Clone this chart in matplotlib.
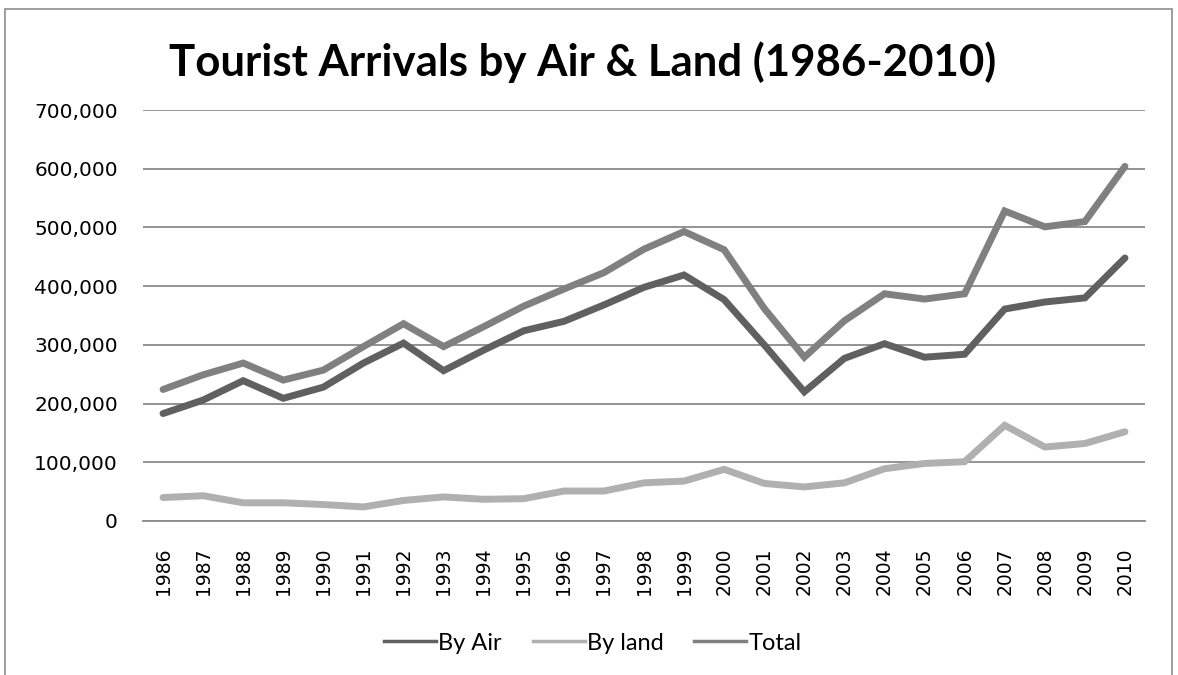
import matplotlib
matplotlib.use("Agg")
import matplotlib.pyplot as plt
from matplotlib.ticker import FuncFormatter, MultipleLocator
from matplotlib.lines import Line2D

plt.rcParams['font.family'] = ['DejaVu Sans']

years = list(range(1986, 2011))
by_air = [183000, 206000, 239000, 209000, 228000, 269000, 303000, 256000, 291000,
          324000, 340000, 368000, 398000, 419000, 377000, 300000, 220000,
          277000, 302000, 279000, 284000, 361000, 373000, 380000, 448000]
by_land = [40000, 43000, 31000, 31000, 28000, 24000, 35000, 41000, 37000,
           38000, 51000, 51000, 65000, 68000, 88000, 64000, 58000,
           65000, 89000, 98000, 101000, 163000, 126000, 132000, 152000]
total = [224000, 249000, 269000, 240000, 257000, 297000, 336000, 297000, 331000,
         366000, 395000, 423000, 463000, 493000, 462000, 362000, 279000,
         341000, 387000, 378000, 387000, 528000, 501000, 510000, 604000]

names = ['By Air', 'By land', 'Total']
colors = ['#606060', '#b0b0b0', '#808080']

fig = plt.figure(figsize=(11.78, 6.75), dpi=100)
# chart border like the spreadsheet frame
fig.patches.append(plt.Rectangle((5 / 1178, -0.01), 1167 / 1178, 1 - 2 / 675, transform=fig.transFigure,
                                 fill=False, edgecolor='#8c8c8c', linewidth=1.2))

ax = fig.add_axes([143 / 1178, 1 - 521 / 675, 1002 / 1178, 411 / 675])
x = range(len(years))
for vals, c, n in zip([by_air, by_land, total], colors, names):
    ax.plot(x, vals, color=c, lw=5, solid_capstyle='round', solid_joinstyle='miter', label=n, zorder=3)

ax.set_xlim(-0.5, len(years) - 0.5)
ax.set_ylim(0, 700000)
ax.yaxis.set_major_locator(MultipleLocator(100000))
ax.yaxis.set_major_formatter(FuncFormatter(lambda v, p: f"{int(v):,}"))
ax.set_xticks(list(x))
ax.set_xticklabels([str(y) for y in years], rotation=90, fontsize=13.5)
ax.tick_params(axis='y', labelsize=14.5, length=0, pad=18)
ax.tick_params(axis='x', length=0, pad=19)
ax.grid(axis='y', color='#8a8a8a', linewidth=1.3)
ax.set_axisbelow(True)
for s in ['left', 'right', 'top']:
    ax.spines[s].set_visible(False)
ax.spines['bottom'].set_color('#8a8a8a')
ax.spines['bottom'].set_linewidth(1.3)

fig.text(583 / 1178, 1 - 62 / 675, "Tourist Arrivals by Air & Land (1986-2010)", ha='center', va='center',
         fontsize=31.5, fontweight='bold', family='Lato')

handles = [Line2D([], [], color=c, lw=2.5) for c in colors]
fig.legend(handles, names, loc='center', bbox_to_anchor=(593 / 1178, 1 - 643 / 675), ncol=3, frameon=False,
           prop={'family': 'Lato', 'size': 17}, handlelength=2.2, handletextpad=0.1, columnspacing=1.3)

fig.savefig("out.png", dpi=100)
